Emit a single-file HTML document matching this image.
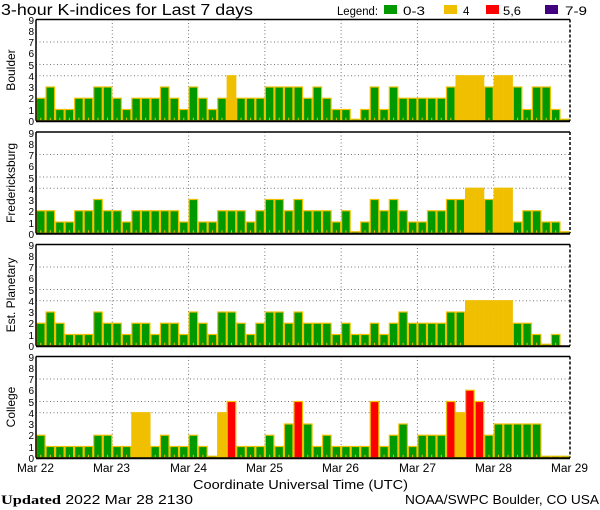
<!DOCTYPE html>
<html><head><meta charset="utf-8"><style>
html,body{margin:0;padding:0;background:#fff;width:600px;height:510px;overflow:hidden}
svg{display:block}
text{font-family:"Liberation Sans",sans-serif;fill:#000}
.t{font-size:10px;text-anchor:end}
</style></head><body>
<svg id="s" width="600" height="510" viewBox="0 0 600 510" xmlns="http://www.w3.org/2000/svg">
<g id="bars"></g>
<text x="1" y="15" style="font-size:15.5px" textLength="252" lengthAdjust="spacingAndGlyphs">3-hour K-indices for Last 7 days</text>
<text x="337" y="15" style="font-size:11.5px" textLength="41" lengthAdjust="spacingAndGlyphs">Legend:</text>
<rect x="384" y="5" width="13" height="9" fill="#009900"/><text x="403" y="15" style="font-size:11.5px" textLength="22" lengthAdjust="spacingAndGlyphs">0-3</text>
<rect x="444" y="5" width="13" height="9" fill="#f0c000"/><text x="463" y="15" style="font-size:11.5px">4</text>
<rect x="486" y="5" width="13" height="9" fill="#ff0000"/><text x="503" y="15" style="font-size:11.5px" textLength="18" lengthAdjust="spacingAndGlyphs">5,6</text>
<rect x="545" y="5" width="13" height="9" fill="#400080"/><text x="565" y="15" style="font-size:11.5px" textLength="22" lengthAdjust="spacingAndGlyphs">7-9</text>

<text transform="translate(15,70) rotate(-90)" style="font-size:12px;text-anchor:middle">Boulder</text>
<text transform="translate(15,183) rotate(-90)" style="font-size:12px;text-anchor:middle">Fredericksburg</text>
<text transform="translate(15,295) rotate(-90)" style="font-size:12px;text-anchor:middle">Est. Planetary</text>
<text transform="translate(15,407) rotate(-90)" style="font-size:12px;text-anchor:middle">College</text>

<g class="t">
<text class="t" x="34" y="125">0</text><text class="t" x="34" y="114">1</text><text class="t" x="34" y="102">2</text><text class="t" x="34" y="91">3</text><text class="t" x="34" y="80">4</text><text class="t" x="34" y="69">5</text><text class="t" x="34" y="57">6</text><text class="t" x="34" y="46">7</text><text class="t" x="34" y="35">8</text><text class="t" x="34" y="24">9</text>
<text class="t" x="34" y="238">0</text><text class="t" x="34" y="227">1</text><text class="t" x="34" y="215">2</text><text class="t" x="34" y="204">3</text><text class="t" x="34" y="193">4</text><text class="t" x="34" y="182">5</text><text class="t" x="34" y="170">6</text><text class="t" x="34" y="159">7</text><text class="t" x="34" y="148">8</text><text class="t" x="34" y="137">9</text>
<text class="t" x="34" y="350">0</text><text class="t" x="34" y="339">1</text><text class="t" x="34" y="327">2</text><text class="t" x="34" y="316">3</text><text class="t" x="34" y="305">4</text><text class="t" x="34" y="294">5</text><text class="t" x="34" y="282">6</text><text class="t" x="34" y="271">7</text><text class="t" x="34" y="260">8</text><text class="t" x="34" y="249">9</text>
<text class="t" x="34" y="462">0</text><text class="t" x="34" y="451">1</text><text class="t" x="34" y="439">2</text><text class="t" x="34" y="428">3</text><text class="t" x="34" y="417">4</text><text class="t" x="34" y="406">5</text><text class="t" x="34" y="394">6</text><text class="t" x="34" y="383">7</text><text class="t" x="34" y="372">8</text><text class="t" x="34" y="361">9</text>
</g>

<g style="font-size:11.5px">
<text x="17" y="472" textLength="37" lengthAdjust="spacingAndGlyphs">Mar 22</text>
<text x="93" y="472" textLength="37" lengthAdjust="spacingAndGlyphs">Mar 23</text>
<text x="170" y="472" textLength="37" lengthAdjust="spacingAndGlyphs">Mar 24</text>
<text x="246" y="472" textLength="37" lengthAdjust="spacingAndGlyphs">Mar 25</text>
<text x="322" y="472" textLength="37" lengthAdjust="spacingAndGlyphs">Mar 26</text>
<text x="399" y="472" textLength="37" lengthAdjust="spacingAndGlyphs">Mar 27</text>
<text x="475" y="472" textLength="37" lengthAdjust="spacingAndGlyphs">Mar 28</text>
<text x="551" y="472" textLength="37" lengthAdjust="spacingAndGlyphs">Mar 29</text>
<text x="193" y="489" style="font-size:12.5px" textLength="215" lengthAdjust="spacingAndGlyphs">Coordinate Universal Time (UTC)</text>
</g>
<text x="1" y="504" style="font-size:12.5px" textLength="192" lengthAdjust="spacingAndGlyphs"><tspan style="font-family:'Liberation Serif',serif;font-weight:bold;font-size:13px">Updated</tspan> 2022 Mar 28 2130</text>
<text x="405" y="504" style="font-size:12.5px" textLength="194" lengthAdjust="spacingAndGlyphs">NOAA/SWPC Boulder, CO USA</text>
</svg>
<script>
var data=[
[2,3,1,1,2,2,3,3, 2,1,2,2,2,3,2,1, 3,2,1,2,4,2,2,2, 3,3,3,3, 2,3,2,1,1,0,1,3,1,3,2,2,2,2,2,3,4,4,4,3,4,4,3,1,3,3,1,0],
[2,2,1,1,2,2,3,2, 2,1,2,2,2,2,2,1, 3,1,1,2,2,2,1,2, 3,3,2,3, 2,2,2,1,2,0,1,3,2,3,2,1,1,2,2,3,3,4,4,3,4,4,1,2,2,1,1,0],
[2,3,2,1,1,1,3,2, 2,1,2,2,1,2,2,1, 3,2,1,3,3,2,1,2, 3,3,2,3, 2,2,2,1,2,1,1,2,1,2,3,2,2,2,2,3,3,4,4,4,4,4,2,2,1,0,1,null],
[2,1,1,1,1,1,2,2, 1,1,4,4,1,2,1,1, 2,1,0,4,5,1,1,1, 2,1,3,5, 3,1,2,1,1,1,1,5,1,2,3,1,2,2,2,5,4,6,5,2,3,3,3,3,3,0,0,0]];
var tops=[19.5,132,244.5,356.5],L=36,R=570,U=11.25,bw=(R-L)/56,h='';
function col(v){return v<=3?'#009900':v==4?'#f0c000':v<=6?'#ff0000':'#400080';}
for(var p=0;p<4;p++){
 var t=tops[p],b=t+101.25;
 [4,5,7].forEach(function(v){var y=b-v*U;h+='<line x1="'+L+'" x2="'+R+'" y1="'+y+'" y2="'+y+'" stroke="#777" stroke-width="1" stroke-dasharray="1,2.5"/>';});
 for(var d=1;d<7;d++){var x=L+d*(R-L)/7;h+='<line x1="'+x+'" x2="'+x+'" y1="'+t+'" y2="'+b+'" stroke="#777" stroke-width="1" stroke-dasharray="1,2.5"/>';}
 for(var i=0;i<56;i++){var v=data[p][i];if(v===null)continue;var x=L+i*bw,hh=Math.max(v*U,1.5);
  var c=col(v);
  h+='<rect x="'+(x+0.5)+'" y="'+(b-hh)+'" width="'+(bw-1)+'" height="'+hh+'" fill="'+c+'" stroke="#f0c000" stroke-width="1.2"/>';
  if(v>0&&v<4)h+='<rect x="'+(x+bw/2-0.5)+'" y="'+(b-3)+'" width="1" height="3" fill="#f0c000"/>';
 }
 h+='<line x1="'+L+'" x2="'+R+'" y1="'+t+'" y2="'+t+'" stroke="#000" stroke-width="1.5"/>';
 h+='<line x1="'+L+'" x2="'+R+'" y1="'+(b+0.5)+'" y2="'+(b+0.5)+'" stroke="#000" stroke-width="2"/>';
 h+='<line x1="'+L+'" x2="'+L+'" y1="'+t+'" y2="'+b+'" stroke="#000" stroke-width="1.5"/>';
 h+='<line x1="'+R+'" x2="'+R+'" y1="'+t+'" y2="'+b+'" stroke="#000" stroke-width="1.5" stroke-dasharray="3,2"/>';
}
document.getElementById('bars').innerHTML=h;
</script>
</body></html>
